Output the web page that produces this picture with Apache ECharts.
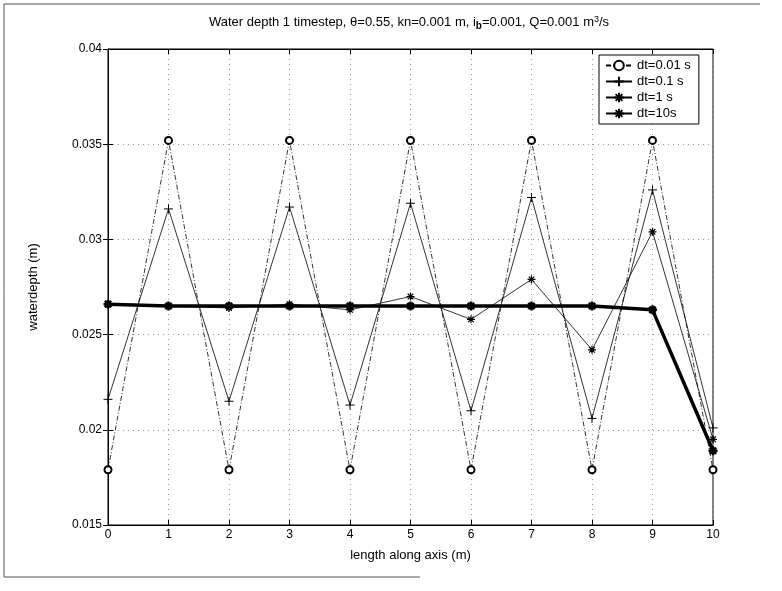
<!DOCTYPE html>
<html>
<head>
<meta charset="utf-8">
<script src="https://cdn.jsdelivr.net/npm/echarts@6/dist/echarts.min.js"></script>
<style>
  html, body { margin: 0; padding: 0; background: #fff; }
  #chart { width: 782px; height: 591px; }
</style>
</head>
<body>
<div id="chart"></div>
<script>
var xs = [0, 1, 2, 3, 4, 5, 6, 7, 8, 9, 10];
var yTicks = [0.015, 0.02, 0.025, 0.03, 0.035, 0.04];
var seriesNames = ["dt=0.01 s", "dt=0.1 s", "dt=1 s", "dt=10s"];
var h001 = [0.0179, 0.0352, 0.0179, 0.0352, 0.0179, 0.0352, 0.0179, 0.0352, 0.0179, 0.0352, 0.0179];
var h01 = [0.0216, 0.0316, 0.0215, 0.0317, 0.0213, 0.0319, 0.0210, 0.0322, 0.0206, 0.0326, 0.0201];
var h1 = [0.0266, 0.0265, 0.0264, 0.0266, 0.0263, 0.0270, 0.0258, 0.0279, 0.0242, 0.0304, 0.0195];
var h10 = [0.0266, 0.0265, 0.0265, 0.0265, 0.0265, 0.0265, 0.0265, 0.0265, 0.0265, 0.0263, 0.0189];

var FONT = "Liberation Sans";
var plusPath = "path://M5,0L5,10M0,5L10,5";
var starPath = "path://M5,0L5,10M0,5L10,5M1.5,1.5L8.5,8.5M8.5,1.5L1.5,8.5";

function pairs(v) {
  return xs.map(function (x, i) { return [x, v[i]]; });
}

var chart = echarts.init(document.getElementById("chart"));

var axisCommon = {
  axisLine: { show: true, lineStyle: { color: "#000", width: 1 } },
  axisTick: { show: true, inside: true, length: 5, lineStyle: { color: "#000" } },
  splitLine: { show: false }
};

chart.setOption({
  backgroundColor: "#fff",
  animation: false,
  title: {
    text: "{a|Water depth 1 timestep, θ=0.55, kn=0.001 m, i}{sub|b}{a|=0.001, Q=0.001 m}{sup|3}{a|/s}",
    left: 404,
    top: 8,
    textAlign: "center",
    textStyle: {
      fontWeight: "normal",
      rich: {
        a: { fontFamily: FONT, fontSize: 13, fontWeight: "normal", color: "#000" },
        sub: { fontFamily: FONT, fontSize: 10, color: "#000", fontWeight: "bold", verticalAlign: "top", padding: [8, 0, 0, 0] },
        sup: { fontFamily: FONT, fontSize: 9, fontWeight: "normal", color: "#000", verticalAlign: "bottom", padding: [0, 0, 7, 0] }
      }
    }
  },
  grid: { left: 108, right: 69, top: 49, bottom: 66, show: true, borderColor: "#000", borderWidth: 1 },
  legend: {
    data: seriesNames,
    orient: "vertical",
    left: 599,
    top: 55,
    width: 110,
    backgroundColor: "#fff",
    borderColor: "#000",
    borderWidth: 1,
    borderRadius: 0,
    padding: [4, 8, 4, 6],
    itemGap: 3,
    itemWidth: 26,
    itemHeight: 12,
    textStyle: { fontFamily: FONT, fontSize: 13, color: "#000" }
  },
  xAxis: [
    Object.assign({
      type: "value", min: 0, max: 10, interval: 1, position: "bottom",
      name: "length along axis (m)", nameLocation: "middle", nameGap: 24,
      nameTextStyle: { fontFamily: FONT, fontSize: 13, color: "#000" },
      axisLabel: { fontFamily: FONT, fontSize: 12, color: "#000", margin: 4 }
    }, axisCommon, {
      splitLine: { show: true, lineStyle: { type: [1, 4], color: "#999", width: 1 } }
    }),
    Object.assign({
      type: "value", min: 0, max: 10, interval: 1, position: "top",
      axisLabel: { show: false }
    }, axisCommon)
  ],
  yAxis: [
    Object.assign({
      type: "value", min: yTicks[0], max: yTicks[yTicks.length - 1], interval: 0.005, position: "left",
      name: "waterdepth (m)", nameLocation: "middle", nameGap: 68,
      nameTextStyle: { fontFamily: FONT, fontSize: 13, color: "#000" },
      axisLabel: {
        fontFamily: FONT, fontSize: 12, color: "#000", margin: 6,
        formatter: function (v) { return String(+v.toFixed(3)); }
      }
    }, axisCommon, {
      splitLine: { show: true, lineStyle: { type: [1, 4], color: "#999", width: 1 } }
    }),
    Object.assign({
      type: "value", min: yTicks[0], max: yTicks[yTicks.length - 1], interval: 0.005, position: "right",
      axisLabel: { show: false }
    }, axisCommon)
  ],
  series: [
    {
      name: seriesNames[0], type: "line", data: pairs(h001),
      symbol: "emptyCircle", symbolSize: 7,
      lineStyle: { color: "#000", width: 0.8, type: [5, 2, 1, 2] },
      itemStyle: { color: "#000", borderColor: "#000", borderWidth: 0.6 },
      z: 2
    },
    {
      name: seriesNames[1], type: "line", data: pairs(h01),
      symbol: plusPath, symbolSize: 9, showAllSymbol: true,
      lineStyle: { color: "#000", width: 0.8 },
      itemStyle: { color: "#000", borderColor: "#000", borderWidth: 1 },
      z: 3
    },
    {
      name: seriesNames[2], type: "line", data: pairs(h1),
      symbol: starPath, symbolSize: 8,
      lineStyle: { color: "#000", width: 0.8 },
      itemStyle: { color: "#000", borderColor: "#000", borderWidth: 1.2 },
      z: 4
    },
    {
      name: seriesNames[3], type: "line", data: pairs(h10),
      symbol: starPath, symbolSize: 9,
      lineStyle: { color: "#000", width: 3.5 },
      itemStyle: { color: "#000", borderColor: "#000", borderWidth: 2.5 },
      z: 5
    }
  ],
  graphic: [
    {
      type: "polyline",
      shape: { points: [[760, 4], [4, 4], [4, 577], [420, 577]] },
      style: { stroke: "#555", lineWidth: 1, fill: null },
      silent: true
    }
  ]
});
</script>
</body>
</html>
